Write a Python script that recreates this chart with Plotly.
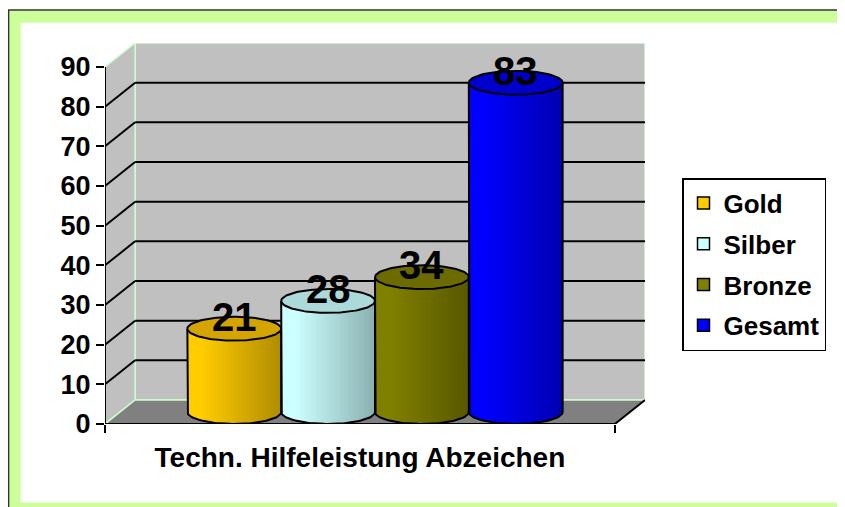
import numpy as np
import plotly.graph_objects as go

# ---------------- data ----------------
categories = ["Techn. Hilfeleistung Abzeichen"]
series_names = ["Gold", "Silber", "Bronze", "Gesamt"]
values = [21, 28, 34, 83]
y_tick_values = [0, 10, 20, 30, 40, 50, 60, 70, 80, 90]

# ---------------- style ----------------
colors_light = ["#FFCC00", "#CCFFFF", "#808000", "#0000FF"]
colors_dark = ["#B08C00", "#8AB0B0", "#585800", "#0000B0"]
colors_top = ["#D4A500", "#ACDADA", "#6B6B00", "#0000CC"]
colors_legend = ["#FFCC00", "#CCFFFF", "#808000", "#0000FF"]
WALL = "#C0C0C0"
FLOOR = "#808080"
EDGE = "#CCFFCC"
FONT = "Liberation Sans"

OFF = 8                      # page body margin of the browser
W, H = 845 - OFF, 507 - OFF  # figure size so the page fits the window


def fx(p):  # window pixel -> paper x
    return (p - OFF) / W


def fy(p):  # window pixel -> paper y
    return 1 - (p - OFF) / H


Y_MAX = 90
DEPTH_Y = 6.05          # 3-D depth in value units
DEPTH_X = 30 / 508      # 3-D depth in category units
GROUP_W = 0.736         # fraction of category occupied by the cylinders
RY = 3.0                # half height of cylinder ellipse (value units)

n = len(series_names)
bw = GROUP_W / n
x_left, x_right = -0.5, 0.5

fig = go.Figure()

# cylinders
for i, (name, v) in enumerate(zip(series_names, values)):
    cx = -GROUP_W / 2 + (i + 0.5) * bw + DEPTH_X / 2
    rx = bw / 2
    yb = DEPTH_Y / 2
    yt = v + DEPTH_Y / 2
    t = np.linspace(0, np.pi, 60)
    bx = cx - rx * np.cos(t)
    by = yb - RY * np.sin(t)
    xs = np.concatenate([[cx - rx], bx, [cx + rx, cx + rx, cx - rx]])
    ys = np.concatenate([[yt], by, [yb, yt, yt]])
    fig.add_trace(go.Scatter(
        x=xs, y=ys, mode="lines", fill="toself",
        fillgradient=dict(type="horizontal",
                          colorscale=[[0, colors_light[i]], [0.15, colors_light[i]],
                                      [1, colors_dark[i]]]),
        line=dict(color="black", width=2), showlegend=False, hoverinfo="skip"))
    te = np.linspace(0, 2 * np.pi, 120)
    fig.add_trace(go.Scatter(
        x=cx + rx * np.cos(te), y=yt + RY * np.sin(te), mode="lines", fill="toself",
        fillcolor=colors_top[i], line=dict(color="black", width=2),
        showlegend=False, hoverinfo="skip"))
    fig.add_annotation(x=cx, y=v + DEPTH_Y, text=str(v), showarrow=False,
                       xref="x", yref="y", yanchor="middle",
                       font=dict(family=FONT, size=40, color="black", weight="bold"))

# legend entries
for i, name in enumerate(series_names):
    fig.add_trace(go.Scatter(
        x=[None], y=[None], mode="markers", name=name, legendgroup=name,
        marker=dict(symbol="square", size=12, color=colors_legend[i],
                    line=dict(color="black", width=1.5))))

shapes = []
# chart frame
shapes.append(dict(type="rect", xref="paper", yref="paper",
                   x0=fx(14.75), x1=fx(848.5), y0=fy(16.75), y1=fy(508.5),
                   line=dict(color="#CCFF99", width=12), layer="below"))
shapes.append(dict(type="rect", xref="paper", yref="paper",
                   x0=fx(8.6), x1=fx(870), y0=fy(10), y1=fy(530),
                   line=dict(color="#333333", width=1.5), layer="below"))

# walls
bx0, bx1 = x_left + DEPTH_X, x_right + DEPTH_X
shapes.append(dict(type="rect", xref="x", yref="y", x0=bx0, x1=bx1,
                   y0=DEPTH_Y, y1=Y_MAX + DEPTH_Y, fillcolor=WALL,
                   line=dict(color=EDGE, width=1.5), layer="below"))
shapes.append(dict(type="path", xref="x", yref="y",
                   path=f"M {x_left},0 L {x_left},{Y_MAX} L {bx0},{Y_MAX + DEPTH_Y} L {bx0},{DEPTH_Y} Z",
                   fillcolor=WALL, line=dict(color=EDGE, width=1.5), layer="below"))
shapes.append(dict(type="path", xref="x", yref="y",
                   path=f"M {x_left},0 L {x_right},0 L {bx1},{DEPTH_Y} L {bx0},{DEPTH_Y} Z",
                   fillcolor=FLOOR, line=dict(width=0), layer="below"))
shapes.append(dict(type="line", xref="x", yref="y", x0=x_left, y0=0, x1=bx0, y1=DEPTH_Y,
                   line=dict(color=EDGE, width=1.5), layer="below"))
shapes.append(dict(type="line", xref="x", yref="y", x0=bx0, y0=DEPTH_Y, x1=bx1, y1=DEPTH_Y,
                   line=dict(color=EDGE, width=1.5), layer="below"))
# gridlines
for v in y_tick_values[1:-1]:
    shapes.append(dict(type="line", xref="x", yref="y", x0=x_left, y0=v, x1=bx0, y1=v + DEPTH_Y,
                       line=dict(color="black", width=2), layer="below"))
    shapes.append(dict(type="line", xref="x", yref="y", x0=bx0, y0=v + DEPTH_Y, x1=bx1, y1=v + DEPTH_Y,
                       line=dict(color="black", width=2), layer="below"))
# axis lines
shapes.append(dict(type="line", xref="x", yref="y", x0=x_left, y0=0, x1=x_left, y1=Y_MAX,
                   line=dict(color="black", width=2), layer="below"))
shapes.append(dict(type="line", xref="x", yref="y", x0=x_left, y0=0, x1=x_right, y1=0,
                   line=dict(color="black", width=2), layer="below"))
shapes.append(dict(type="line", xref="x", yref="y", x0=x_right, y0=0, x1=bx1, y1=DEPTH_Y,
                   line=dict(color="black", width=2), layer="below"))

fig.update_layout(
    width=W, height=H,
    margin=dict(l=0, r=0, t=0, b=0),
    paper_bgcolor="white", plot_bgcolor="rgba(0,0,0,0)",
    shapes=shapes,
    showlegend=True,
    legend=dict(x=fx(682), y=fy(178), xanchor="left", yanchor="top",
                bgcolor="white", bordercolor="black", borderwidth=1.5,
                tracegroupgap=4, itemwidth=30,
                font=dict(family=FONT, size=26, color="black", weight="bold")),
    xaxis=dict(domain=[fx(105), fx(645)], range=[x_left, x_right + DEPTH_X],
               tickvals=[0], ticktext=categories, ticks="", showgrid=False,
               zeroline=False, showline=False, automargin=False, fixedrange=True,
               ticklabelstandoff=14,
               tickfont=dict(family=FONT, size=28, color="black", weight="bold"),
               minor=dict(tickvals=[x_left, x_right], ticks="outside", ticklen=8,
                          tickwidth=2, tickcolor="black", showgrid=False)),
    yaxis=dict(domain=[fy(424), fy(43)], range=[0, Y_MAX + DEPTH_Y],
               tickvals=y_tick_values, ticks="outside", ticklen=8, tickwidth=2,
               tickcolor="black", showgrid=False, zeroline=False, showline=False,
               automargin=False, fixedrange=True,
               tickfont=dict(family=FONT, size=27, color="black", weight="bold")),
)

fig.write_html("out.html")
